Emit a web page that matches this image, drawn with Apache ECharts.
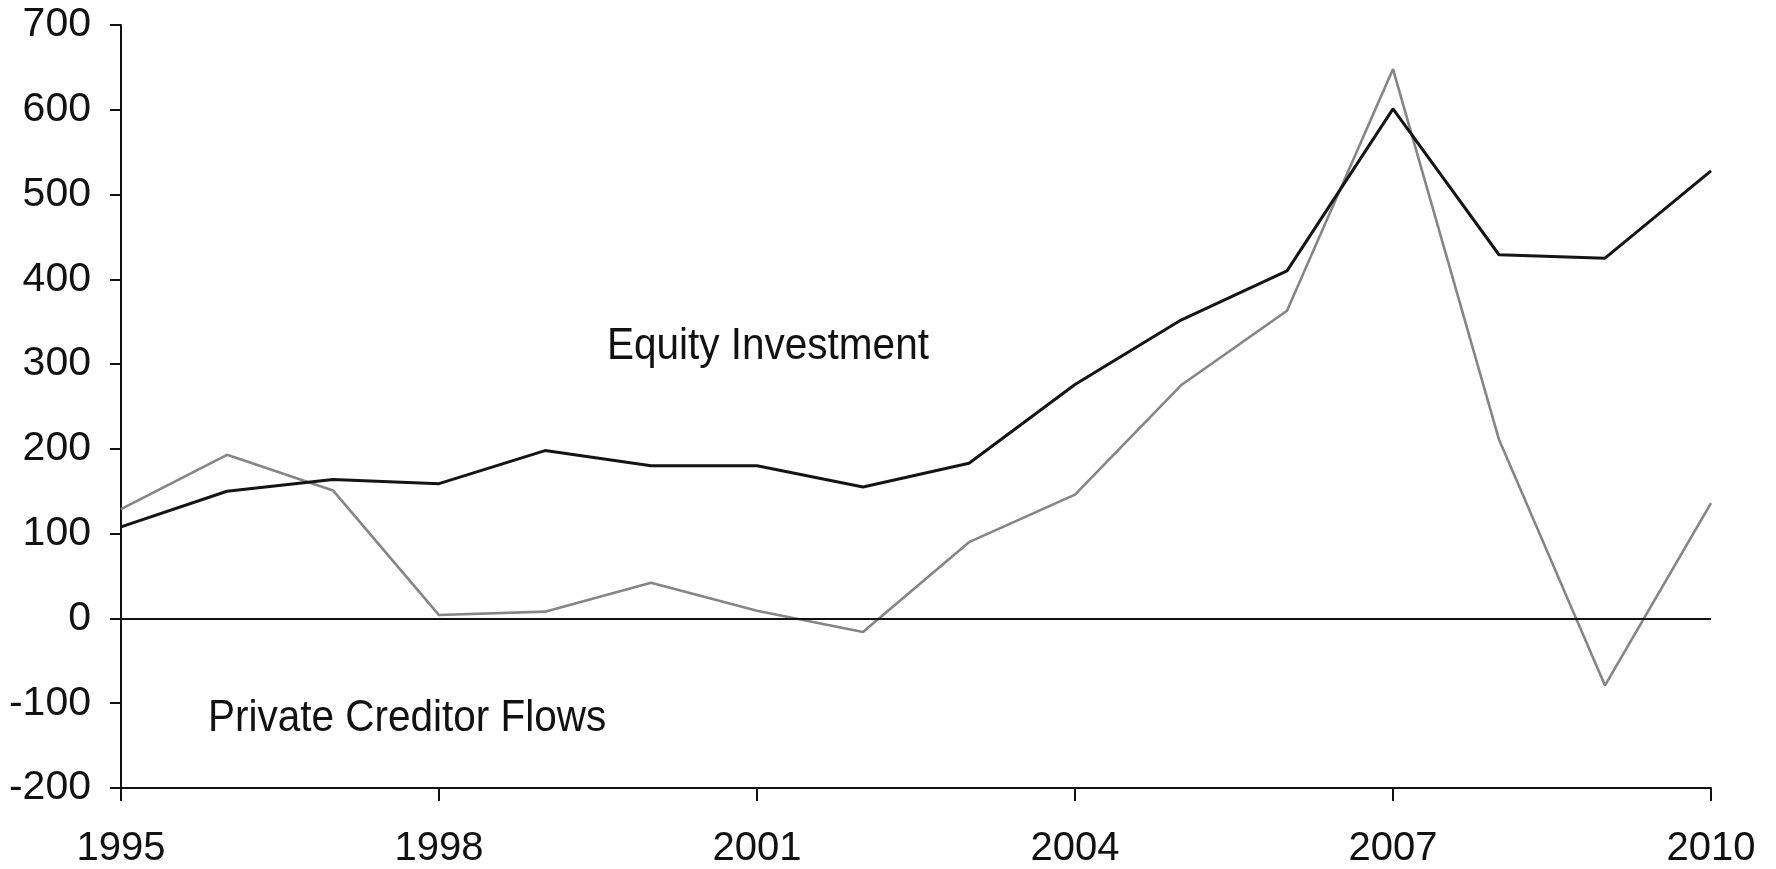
<!DOCTYPE html>
<html>
<head>
<meta charset="utf-8">
<title>Equity Investment and Private Creditor Flows</title>
<script src="https://cdn.jsdelivr.net/npm/echarts@6/dist/echarts.min.js"></script>
<style>
  html, body { margin: 0; padding: 0; background: #fff; }
  #chart { width: 1776px; height: 869px; }
</style>
</head>
<body>
<div id="chart"></div>
<script>
// data
const years = ['1995', '1996', '1997', '1998', '1999', '2000', '2001', '2002',
               '2003', '2004', '2005', '2006', '2007', '2008', '2009', '2010'];
const equityInvestment = [108, 150, 164, 159, 198, 180, 180, 155, 183, 276, 352, 410, 601, 429, 425, 528];
const privateCreditorFlows = [129, 193, 151, 4, 8, 42, 9, -16, 90, 146, 275, 363, 648, 211, -79, 136];
const yTicks = { min: -200, max: 700, step: 100 };

const FONT = '"Liberation Sans", Arial, Helvetica, sans-serif';
const INK = '#111';

const chart = echarts.init(document.getElementById('chart'));

const option = {
  animation: false,
  backgroundColor: '#fff',
  grid: { left: 121, right: 65, top: 25, bottom: 80, containLabel: false },
  xAxis: {
    type: 'category',
    data: years,
    boundaryGap: false,
    axisLine: { onZero: false, lineStyle: { color: INK, width: 2 } },
    axisTick: { interval: (i) => i % 3 === 0, length: 13, lineStyle: { color: INK, width: 2 } },
    axisLabel: {
      interval: (i) => i % 3 === 0,
      margin: 41,
      color: INK,
      fontSize: 40,
      fontFamily: FONT
    },
    splitLine: { show: false }
  },
  yAxis: {
    type: 'value',
    min: yTicks.min,
    max: yTicks.max,
    interval: yTicks.step,
    axisLine: { show: true, lineStyle: { color: INK, width: 2 } },
    axisTick: { show: true, length: 11, lineStyle: { color: INK, width: 2 } },
    axisLabel: { margin: 30, color: INK, fontSize: 41, fontFamily: FONT },
    splitLine: { show: false }
  },
  graphic: [
    {
      type: 'text',
      x: 607, y: 347,
      scaleX: 0.9,
      style: { text: 'Equity Investment', font: '45px ' + FONT, fill: INK, verticalAlign: 'middle' }
    },
    {
      type: 'text',
      x: 208, y: 719,
      scaleX: 0.9,
      style: { text: 'Private Creditor Flows', font: '45px ' + FONT, fill: INK, verticalAlign: 'middle' }
    }
  ],
  series: [
    {
      name: 'Private Creditor Flows',
      type: 'line',
      data: privateCreditorFlows,
      symbol: 'none',
      lineStyle: { color: '#858585', width: 2.6 },
      markLine: {
        silent: true,
        symbol: 'none',
        label: { show: false },
        lineStyle: { color: INK, width: 2, type: 'solid' },
        data: [{ yAxis: 0 }]
      },
      z: 2
    },
    {
      name: 'Equity Investment',
      type: 'line',
      data: equityInvestment,
      symbol: 'none',
      lineStyle: { color: '#141414', width: 3 },
      z: 3
    }
  ]
};

chart.setOption(option);
window.addEventListener('resize', () => chart.resize());
</script>
</body>
</html>
